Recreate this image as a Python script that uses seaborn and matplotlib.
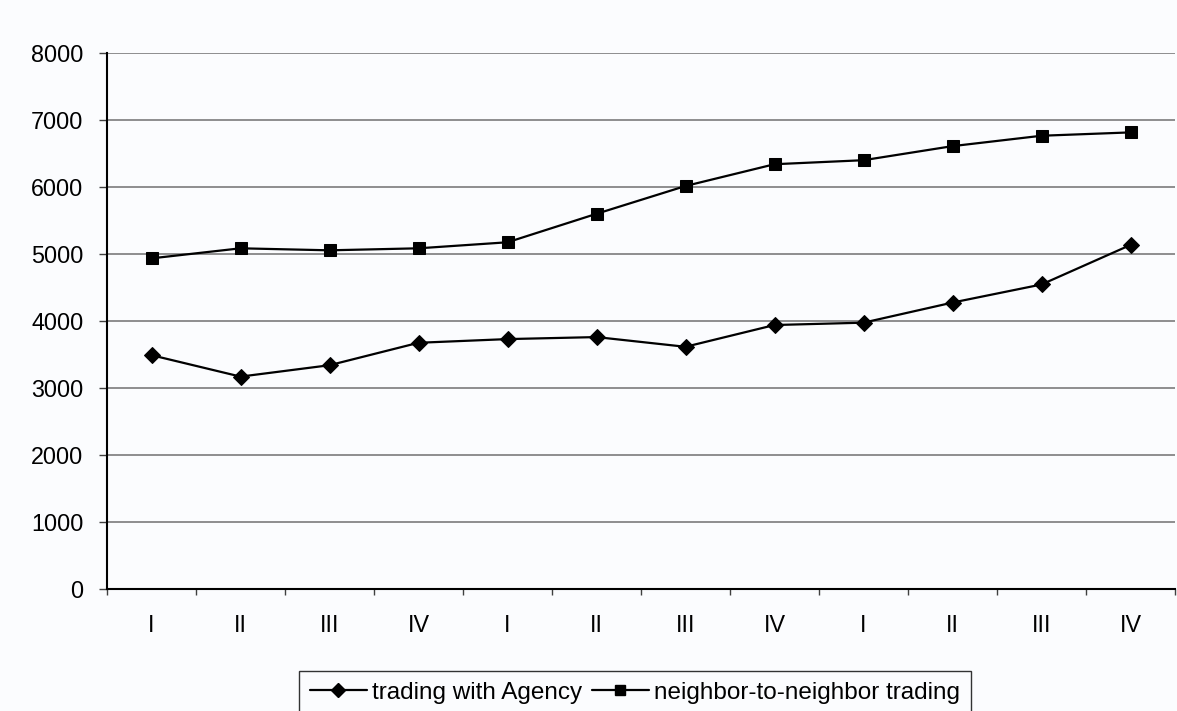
import matplotlib
matplotlib.use("Agg")
import matplotlib.pyplot as plt
import seaborn as sns
import pandas as pd
import numpy as np
from matplotlib.ticker import FixedLocator
from matplotlib.lines import Line2D

quarters = ["I", "II", "III", "IV", "I", "II", "III", "IV", "I", "II", "III", "IV"]
agency = [3490, 3170, 3340, 3675, 3730, 3760, 3615, 3940, 3975, 4275, 4545, 5135]
neighbor = [4935, 5085, 5055, 5085, 5175, 5600, 6015, 6340, 6400, 6610, 6765, 6815]
series_names = ["trading with Agency", "neighbor-to-neighbor trading"]
y_ticks = [0, 1000, 2000, 3000, 4000, 5000, 6000, 7000, 8000]

sns.set_theme(style="white")
plt.rcParams["font.family"] = ["Liberation Sans", "DejaVu Sans"]
plt.rcParams["text.color"] = "black"
plt.rcParams["xtick.color"] = "black"
plt.rcParams["ytick.color"] = "black"

FS = 17.5
TFS = 16.8
bg = "#fbfcfe"
fig = plt.figure(figsize=(11.77, 7.11), dpi=100, facecolor=bg)
ax = fig.add_axes([107/1177, (711-589)/711, (1175-107)/1177, (589-53)/711])
ax.set_facecolor(bg)

pos = np.arange(len(quarters))
df = pd.DataFrame({
    "pos": np.concatenate([pos, pos]),
    "value": agency + neighbor,
    "series": [series_names[0]] * len(pos) + [series_names[1]] * len(pos),
})
sns.lineplot(data=df, x="pos", y="value", style="series",
             markers={series_names[0]: "D", series_names[1]: "s"},
             dashes=False, color="black", linewidth=1.6, markersize=8,
             markeredgecolor="black", ax=ax, legend=False)

ax.set_xlim(-0.5, len(quarters) - 0.5)
ax.set_ylim(0, 8000)
ax.set_yticks(y_ticks)
ax.set_yticklabels([str(t) for t in y_ticks], fontsize=TFS)
ax.yaxis.grid(True, color="#707070", linewidth=1.1)
ax.set_axisbelow(True)

ax.xaxis.set_major_locator(FixedLocator(np.arange(-0.5, len(quarters), 1.0)))
ax.xaxis.set_minor_locator(FixedLocator(pos))
ax.set_xticklabels([""] * (len(quarters) + 1))
ax.set_xticklabels(quarters, minor=True, fontsize=TFS)
ax.tick_params(axis="x", which="major", length=4.5, width=1, color="#404040",
               direction="out", bottom=True)
ax.tick_params(axis="x", which="minor", length=0, pad=18)
ax.tick_params(axis="y", length=6, width=1, color="#404040", direction="out",
               left=True, pad=11)

ax.set_xlabel("")
ax.set_ylabel("")
for s in ["top", "right"]:
    ax.spines[s].set_visible(False)
for s in ["left", "bottom"]:
    ax.spines[s].set_color("black")
    ax.spines[s].set_linewidth(1.5)

handles = [Line2D([], [], color="black", marker="D", markersize=7, linewidth=1.6),
           Line2D([], [], color="black", marker="s", markersize=7, linewidth=1.6)]
leg = fig.legend(handles, series_names, loc="upper left",
                 bbox_to_anchor=(299/1177, 1 - 671/711),
                 ncol=2, frameon=True, fancybox=False, fontsize=FS,
                 handlelength=2.35, handletextpad=0.2, columnspacing=0.4,
                 borderpad=0.45, borderaxespad=0)
leg.get_frame().set_edgecolor("black")
leg.get_frame().set_linewidth(1.0)
leg.get_frame().set_facecolor(bg)

fig.savefig("out.png", dpi=100, facecolor=bg)
